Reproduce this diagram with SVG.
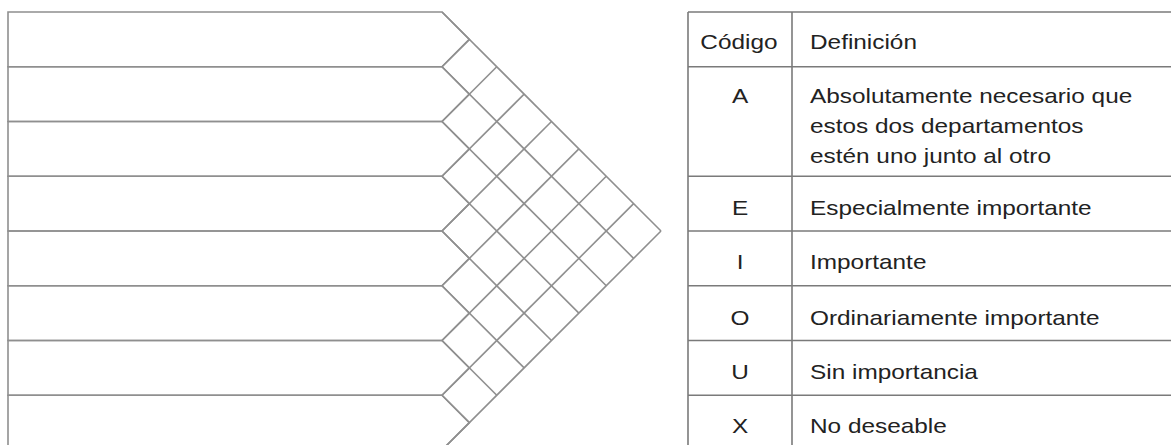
<svg xmlns="http://www.w3.org/2000/svg" width="1171" height="445" viewBox="0 0 1171 445">
<style>
.grid{fill:none;stroke:#8f8f8f;stroke-width:1.6;stroke-linejoin:miter}
.tbl{fill:none;stroke:#7a7a7a;stroke-width:1.6}
.t{font-family:"Liberation Sans",Arial,sans-serif;font-size:21px;fill:#222}
.c{text-anchor:middle}
</style>
<rect width="1171" height="445" fill="#ffffff"/>
<g id="departments" class="grid">
<g id="dept1"><path d="M8,12 H442 L469.375,39.375 L442,66.75 H8 Z"/></g>
<g id="dept2"><path d="M8,66.75 H442 L469.375,94.125 L442,121.5 H8 Z"/></g>
<g id="dept3"><path d="M8,121.5 H442 L469.375,148.875 L442,176.25 H8 Z"/></g>
<g id="dept4"><path d="M8,176.25 H442 L469.375,203.625 L442,231 H8 Z"/></g>
<g id="dept5"><path d="M8,231 H442 L469.375,258.375 L442,285.75 H8 Z"/></g>
<g id="dept6"><path d="M8,285.75 H442 L469.375,313.125 L442,340.5 H8 Z"/></g>
<g id="dept7"><path d="M8,340.5 H442 L469.375,367.875 L442,395.25 H8 Z"/></g>
<g id="dept8"><path d="M8,395.25 H442 L469.375,422.625 L442,450 H8 Z"/></g>
</g>
<g id="connectors" class="grid">
<!-- down-right diagonals -->
<path d="M442,12 L661,231"/>
<path d="M442,66.75 L633.625,258.375"/>
<path d="M442,121.5 L606.25,285.75"/>
<path d="M442,176.25 L578.875,313.125"/>
<path d="M442,231 L551.5,340.5"/>
<path d="M442,285.75 L524.125,367.875"/>
<path d="M442,340.5 L496.75,395.25"/>
<path d="M442,395.25 L469.375,422.625"/>
<!-- up-right diagonals -->
<path d="M442,450 L661,231"/>
<path d="M442,395.25 L633.625,203.625"/>
<path d="M442,340.5 L606.25,176.25"/>
<path d="M442,285.75 L578.875,148.875"/>
<path d="M442,231 L551.5,121.5"/>
<path d="M442,176.25 L524.125,94.125"/>
<path d="M442,121.5 L496.75,66.75"/>
<path d="M442,66.75 L469.375,39.375"/>
</g>
<g id="table">
<g class="tbl">
<path d="M688,12 V450"/>
<path d="M792,12 V450"/>
<path d="M688,12 H1172"/>
<path d="M688,66.75 H1172"/>
<path d="M688,176.25 H1172"/>
<path d="M688,231 H1172"/>
<path d="M688,285.75 H1172"/>
<path d="M688,340.5 H1172"/>
<path d="M688,395.25 H1172"/>
<path d="M688,450 H1172"/>
</g>
<g transform="scale(1.16 1)" class="t">
<text class="c" x="637" y="49">Código</text>
<text x="698.3" y="49">Definición</text>
<text class="c" x="638" y="103">A</text>
<text x="698.3" y="103">Absolutamente necesario que</text>
<text x="698.3" y="133">estos dos departamentos</text>
<text x="698.3" y="163">estén uno junto al otro</text>
<text class="c" x="638" y="215">E</text>
<text x="698.3" y="215">Especialmente importante</text>
<text class="c" x="638" y="269">I</text>
<text x="698.3" y="269">Importante</text>
<text class="c" x="638" y="325">O</text>
<text x="698.3" y="325">Ordinariamente importante</text>
<text class="c" x="638" y="379">U</text>
<text x="698.3" y="379">Sin importancia</text>
<text class="c" x="638" y="433">X</text>
<text x="698.3" y="433">No deseable</text>
</g>
</g>
</svg>
